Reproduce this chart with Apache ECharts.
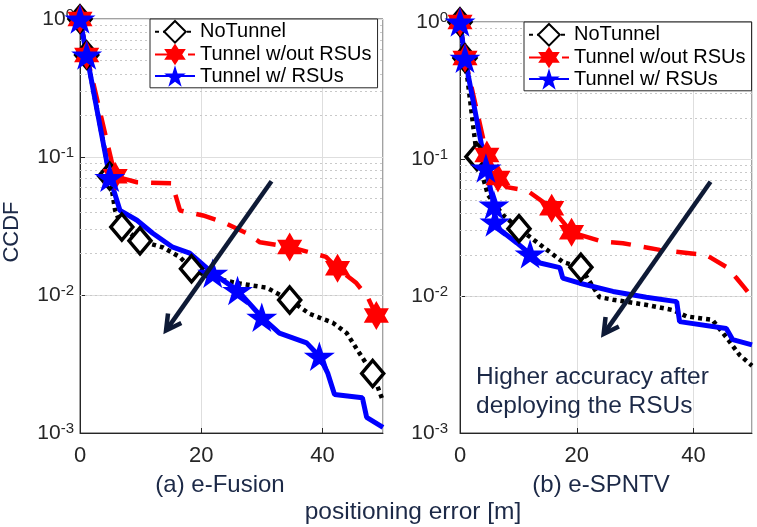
<!DOCTYPE html>
<html>
<head>
<meta charset="utf-8">
<script src="https://cdn.jsdelivr.net/npm/echarts@6/dist/echarts.min.js"></script>
<style>
  html, body { margin: 0; padding: 0; background: #fff; }
  #main { width: 757px; height: 527px; }
</style>
</head>
<body>
<div id="main"></div>
<script>
// 图例名称
const names = ['NoTunnel', 'Tunnel w/out RSUs', 'Tunnel w/ RSUs']

// (a) e-Fusion : [positioning error (m), CCDF]
const fusionNoTunnel = [[0, 1], [1.1, 0.548], [4.9, 0.0727], [5.8, 0.041], [6.9, 0.0311], [9.9, 0.0247], [13.7, 0.0221], [16.5, 0.0188], [18.4, 0.0155], [21.4, 0.0134], [26.4, 0.0121], [30.8, 0.0113], [34.6, 0.0092], [37.9, 0.0073], [41.7, 0.0063], [44.0, 0.0053], [46.1, 0.0038], [48.3, 0.0027], [50, 0.0017]]
const fusionNoTunnelMarks = [0, 1, 2, 4, 5, 8, 12, 17]
const fusionNoRsu = [[0, 1], [1.1, 0.548], [5.8, 0.0724], [9.4, 0.0656], [15.2, 0.0645], [16.5, 0.041], [20.3, 0.0377], [23.6, 0.0337], [27.5, 0.028], [29.7, 0.0241], [34.6, 0.0223], [40.6, 0.0189], [42.5, 0.0156], [45.6, 0.0122], [47.5, 0.0096], [48.9, 0.0071], [50, 0.0066]]
const fusionNoRsuMarks = [0, 1, 2, 10, 12, 15]
const fusionRsu = [[0, 1], [1.1, 0.548], [4.9, 0.0712], [6.6, 0.041], [9.4, 0.0348], [12.0, 0.028], [15.3, 0.0222], [18.1, 0.0201], [21.9, 0.0144], [26.0, 0.0108], [30.0, 0.0069], [32.9, 0.0053], [37.4, 0.0045], [39.5, 0.0036], [40.9, 0.0027], [42.0, 0.0019], [46.6, 0.0018], [47.3, 0.0013], [50, 0.0011]]
const fusionRsuMarks = [0, 1, 2, 8, 9, 10, 13]

// (b) e-SPNTV
const spntvNoTunnel = [[0, 1], [0.85, 0.546], [2.9, 0.104], [4.8, 0.0546], [7.35, 0.039], [10.1, 0.031], [14.9, 0.0217], [17.6, 0.0177], [20.7, 0.0162], [21.7, 0.0138], [23.9, 0.0098], [26.2, 0.0094], [32.0, 0.0086], [36.4, 0.0079], [38.8, 0.0071], [43.2, 0.0067], [45.6, 0.005], [47.9, 0.0037], [50, 0.0031]]
const spntvNoTunnelMarks = [0, 1, 2, 5, 8]
const spntvNoRsu = [[0, 1], [0.85, 0.546], [4.6, 0.107], [6.5, 0.0726], [8.0, 0.0623], [11.6, 0.0585], [15.7, 0.0437], [19.1, 0.0292], [24.4, 0.0249], [27.9, 0.0243], [34.2, 0.0217], [42.1, 0.0199], [42.7, 0.0193], [45.6, 0.0163], [47.3, 0.0136], [48.7, 0.0115], [50, 0.0098]]
const spntvNoRsuMarks = [0, 1, 2, 3, 6, 7]
const spntvRsu = [[0, 1], [0.85, 0.543], [4.44, 0.086], [5.81, 0.0462], [5.98, 0.0347], [6.84, 0.0304], [9.74, 0.0244], [12.0, 0.0203], [13.7, 0.0174], [17.1, 0.0161], [17.6, 0.0135], [20.5, 0.0124], [26.2, 0.0108], [31.9, 0.0098], [37.1, 0.0091], [37.6, 0.0065], [45.6, 0.0058], [46.7, 0.0048], [50, 0.0044]]
const spntvRsuMarks = [0, 1, 2, 3, 4, 7]

// 对数轴的次网格线
const yMinor = [0.002, 0.003, 0.004, 0.005, 0.006, 0.007, 0.008, 0.009,
  0.02, 0.03, 0.04, 0.05, 0.06, 0.07, 0.08, 0.09,
  0.2, 0.3, 0.4, 0.5, 0.6, 0.7, 0.8, 0.9]

// 箭头 [x1, y1, x2, y2]（数据坐标，终点为箭尖）
const arrowFusion = [31.6, 0.0667, 14.2, 0.00553]
const arrowSpntv = [42.9, 0.0683, 24.6, 0.00528]

const FONT = 'Liberation Sans, Arial, sans-serif'
const TEXT_DARK = '#1c2947'
const HEXAGRAM = 'path://M0,-10L2.887,-5L8.66,-5L5.774,0L8.66,5L2.887,5L0,10L-2.887,5L-8.66,5L-5.774,0L-8.66,-5L-2.887,-5Z'
const PENTAGRAM = 'path://M0,-10L2.245,-3.09L9.511,-3.09L3.633,1.18L5.878,8.09L0,3.82L-5.878,8.09L-3.633,1.18L-9.511,-3.09L-2.245,-3.09Z'

const styles = {
  'NoTunnel': {
    symbol: 'diamond', symbolSize: [22, 26],
    itemStyle: { color: '#fff', borderColor: '#000', borderWidth: 3.5 },
    lineStyle: { color: '#000', width: 4.5, type: [4, 4] }
  },
  'Tunnel w/out RSUs': {
    symbol: HEXAGRAM, symbolSize: 29,
    itemStyle: { color: '#ff0000' },
    lineStyle: { color: '#ff0000', width: 4.5, type: [20, 13] }
  },
  'Tunnel w/ RSUs': {
    symbol: PENTAGRAM, symbolSize: 31,
    itemStyle: { color: '#0000ff' },
    lineStyle: { color: '#0000ff', width: 5, type: 'solid' }
  }
}

function curve(name, idx, pts, marks) {
  const s = styles[name]
  return {
    type: 'line',
    name: name,
    xAxisIndex: idx,
    yAxisIndex: idx,
    data: pts.map(function(p, i) {
      return marks.indexOf(i) >= 0 ? { value: p } : { value: p, symbol: 'none' }
    }),
    symbol: s.symbol,
    symbolSize: s.symbolSize,
    symbolKeepAspect: true,
    showSymbol: true,
    showAllSymbol: true,
    itemStyle: s.itemStyle,
    lineStyle: s.lineStyle,
    clip: false,
    silent: true,
    emphasis: { disabled: true }
  }
}

function minorGrid(idx) {
  return {
    type: 'line', name: 'minor' + idx, xAxisIndex: idx, yAxisIndex: idx, data: [],
    silent: true,
    markLine: {
      z: 1, silent: true, symbol: 'none', animation: false,
      label: { show: false },
      lineStyle: { color: '#c9c9c9', width: 1, type: [2, 3] },
      emphasis: { disabled: true },
      data: yMinor.map(function(v) { return { yAxis: v } })
    }
  }
}

// 箭头：自定义系列，用坐标轴换算成像素后画箭杆和 V 形箭头
function arrow(idx, a) {
  return {
    type: 'custom', name: 'arrow' + idx, coordinateSystem: 'cartesian2d',
    xAxisIndex: idx, yAxisIndex: idx, z: 10, silent: true, clip: false,
    encode: { x: [0, 2], y: [1, 3] },
    data: [a],
    renderItem: function(params, api) {
      const p1 = api.coord([api.value(0), api.value(1)])
      const p2 = api.coord([api.value(2), api.value(3)])
      const dx = p1[0] - p2[0]
      const dy = p1[1] - p2[1]
      const len = Math.sqrt(dx * dx + dy * dy)
      const ux = dx / len
      const uy = dy / len
      const L = 17
      const ang = 0.5
      const c = Math.cos(ang)
      const s = Math.sin(ang)
      const a1 = [p2[0] + L * (ux * c - uy * s), p2[1] + L * (ux * s + uy * c)]
      const a2 = [p2[0] + L * (ux * c + uy * s), p2[1] + L * (-ux * s + uy * c)]
      const style = { stroke: '#0e1a36', lineWidth: 4.5, fill: null }
      return {
        type: 'group',
        children: [
          { type: 'line', shape: { x1: p1[0], y1: p1[1], x2: p2[0] + 2 * ux, y2: p2[1] + 2 * uy }, style: style },
          { type: 'polyline', shape: { points: [a1, p2, a2] }, style: Object.assign({ lineJoin: 'miter' }, style) }
        ]
      }
    }
  }
}

function xAxis(idx) {
  return {
    type: 'value', gridIndex: idx, min: 0, max: 50, interval: 20,
    axisLine: { show: true, lineStyle: { color: '#262626', width: 1 } },
    axisTick: { show: true, inside: true, length: 5, lineStyle: { color: '#262626' } },
    axisLabel: { showMaxLabel: false, margin: 12, fontSize: 22, color: '#262626', fontFamily: FONT },
    splitLine: { show: true, lineStyle: { color: '#dedede', width: 1 } }
  }
}

function yAxis(idx, margin) {
  return {
    type: 'log', logBase: 10, gridIndex: idx, min: 0.001, max: 1,
    axisLine: { show: true, lineStyle: { color: '#262626', width: 1 } },
    axisTick: { show: true, inside: true, length: 5, lineStyle: { color: '#262626' } },
    axisLabel: {
      margin: margin,
      formatter: function(v) {
        return '{b|10}{s|' + Math.round(Math.log10(v)) + '}'
      },
      rich: {
        b: { fontSize: 21, lineHeight: 24, color: '#262626', fontFamily: FONT },
        s: { fontSize: 15, lineHeight: 18, verticalAlign: 'top', color: '#262626', fontFamily: FONT }
      }
    },
    splitLine: { show: true, lineStyle: { color: '#dedede', width: 1 } }
  }
}

function legend(left, top) {
  return {
    data: names, orient: 'vertical', left: left, top: top,
    itemWidth: 40, itemHeight: 27, itemGap: 0,
    padding: [1, 6, 1, 4],
    borderColor: '#262626', borderWidth: 1, backgroundColor: '#fff',
    selectedMode: false,
    textStyle: { fontSize: 20, color: '#000', fontFamily: FONT }
  }
}

var myChart = echarts.init(document.getElementById('main'))
var option = {
  animation: false,
  backgroundColor: '#fff',
  textStyle: { fontFamily: FONT },
  grid: [
    { left: 80, top: 19, width: 303, height: 414, show: true, borderColor: '#444', borderWidth: 1, backgroundColor: '#fff', outerBoundsMode: 'none' },
    { left: 460, top: 22, width: 292, height: 411, show: true, borderColor: '#444', borderWidth: 1, backgroundColor: '#fff', outerBoundsMode: 'none' }
  ],
  xAxis: [xAxis(0), xAxis(1)],
  yAxis: [yAxis(0, 6), yAxis(1, 12)],
  legend: [legend(150, 19), legend(524, 22)],
  series: [
    minorGrid(0),
    minorGrid(1),
    curve(names[0], 0, fusionNoTunnel, fusionNoTunnelMarks),
    curve(names[1], 0, fusionNoRsu, fusionNoRsuMarks),
    curve(names[2], 0, fusionRsu, fusionRsuMarks),
    curve(names[0], 1, spntvNoTunnel, spntvNoTunnelMarks),
    curve(names[1], 1, spntvNoRsu, spntvNoRsuMarks),
    curve(names[2], 1, spntvRsu, spntvRsuMarks),
    arrow(0, arrowFusion),
    arrow(1, arrowSpntv)
  ],
  graphic: [
    { type: 'text', x: 12, y: 232, rotation: Math.PI / 2,
      style: { text: 'CCDF', fontSize: 22, fontFamily: FONT, fill: TEXT_DARK, align: 'center', verticalAlign: 'middle' } },
    { type: 'text', x: 220, y: 485,
      style: { text: '(a) e-Fusion', fontSize: 24, fontFamily: FONT, fill: TEXT_DARK, align: 'center', verticalAlign: 'middle' } },
    { type: 'text', x: 601, y: 485,
      style: { text: '(b) e-SPNTV', fontSize: 24, fontFamily: FONT, fill: TEXT_DARK, align: 'center', verticalAlign: 'middle' } },
    { type: 'text', x: 413, y: 512,
      style: { text: 'positioning error [m]', fontSize: 24.5, fontFamily: FONT, fill: TEXT_DARK, align: 'center', verticalAlign: 'middle' } },
    { type: 'text', x: 476, y: 363, z: 20,
      style: { text: 'Higher accuracy after\ndeploying the RSUs', fontSize: 24.5, lineHeight: 29, fontFamily: FONT, fill: TEXT_DARK, align: 'left', verticalAlign: 'top' } }
  ]
}
myChart.setOption(option)
</script>
</body>
</html>
